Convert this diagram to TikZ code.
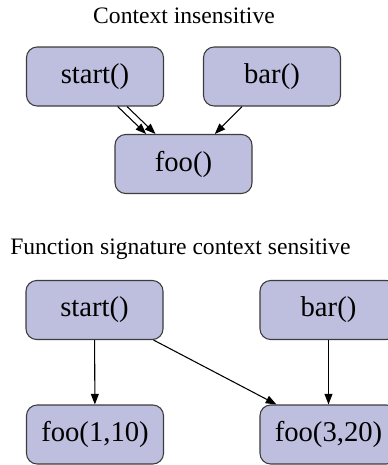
\documentclass[tikz,border=0pt]{standalone}
\usepackage{fontspec}
\setmainfont{Liberation Serif}
\usetikzlibrary{shapes,arrows.meta,positioning}
\definecolor{callfill}{RGB}{190,190,222}
\definecolor{calledge}{RGB}{60,60,60}
\tikzstyle{block} = [draw=calledge, fill=callfill, rectangle, rounded corners=8pt, line width=0.8pt, minimum height=44.25pt, minimum width=102.75pt, align=center, font={\rmfamily\fontsize{21.5pt}{24pt}\selectfont}]
\tikzstyle{caption} = [font={\rmfamily\fontsize{17.7pt}{20pt}\selectfont}, inner sep=0pt]

\begin{document}
\begin{tikzpicture}[x=0.75pt, y=-0.75pt, >={Triangle[length=8pt,width=6pt]}]
    \useasboundingbox (0,0) rectangle (388,465);
    % context insensitive
    \node [caption, anchor=base] (t1) at (184,23) {Context insensitive};
    \node [block] (start) at (95,76.5) {start()};
    \node [block] (bar) at (272,76.5) {bar()};
    \node [block] (foo) at (183.5,164) {foo()};
      \draw [->, line width=0.8pt] ([xshift=17pt]start.south) -- ([xshift=-28pt]foo.north);
      \draw [->, line width=0.8pt] ([xshift=24pt]start.south) -- ([xshift=-21pt]foo.north);
      \draw [->, line width=0.8pt] ([xshift=-22.5pt]bar.south) -- ([xshift=23.5pt]foo.north);
    % function signature context sensitive
    \node [caption, anchor=base west] (t2) at (10,254) {Function signature context sensitive};
    \node [block] (start2) at (94.5,310) {start()};
    \node [block] (bar2) at (328.5,310) {bar()};
    \node [block] (fooa) at (95,434.5) {foo(1,10)};
    \node [block] (foob) at (328.5,434.5) {foo(3,20)};
      \draw [->, line width=0.8pt] (start2) -- (fooa);
      \draw [->, line width=0.8pt] ([xshift=-7.5pt]start2.south east) -- ([xshift=12.75pt]foob.north west);
      \draw [->, line width=0.8pt] (bar2) -- (foob);
\end{tikzpicture}
\end{document}
